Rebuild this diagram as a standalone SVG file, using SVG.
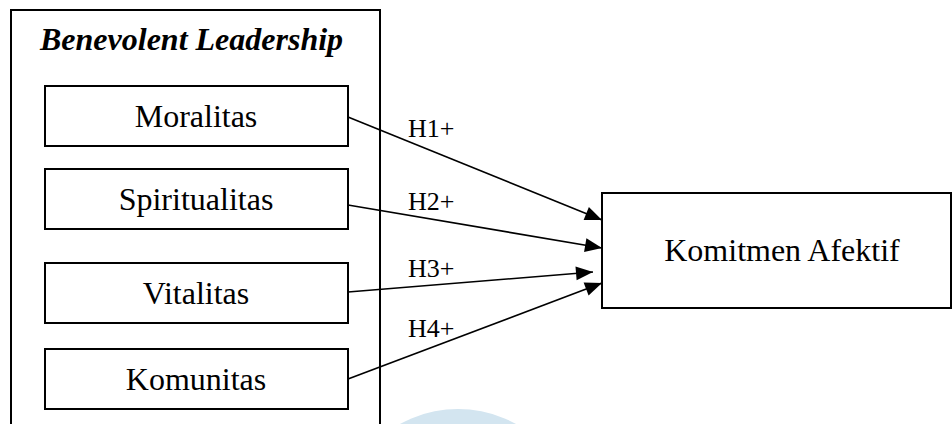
<svg xmlns="http://www.w3.org/2000/svg" width="952" height="424" viewBox="0 0 952 424">
<style>
.box{fill:#fff;stroke:#000;stroke-width:2}
.frame{fill:none;stroke:#000;stroke-width:2}
.t{font-family:"Liberation Serif","Times New Roman",serif;font-size:32px;fill:#000;text-anchor:middle}
.title{font-family:"Liberation Serif","Times New Roman",serif;font-size:32px;font-weight:bold;font-style:italic;fill:#000}
.lbl{font-family:"Liberation Serif","Times New Roman",serif;font-size:26px;fill:#000}
.arr{stroke:#000;stroke-width:1.6;fill:none;marker-end:url(#ah)}
</style>
<defs>
<marker id="ah" markerUnits="userSpaceOnUse" markerWidth="20" markerHeight="16" refX="17" refY="7" orient="auto" overflow="visible">
<path d="M0,0 L17,7 L0,14 Z" fill="#000"/>
</marker>
</defs>
<rect width="952" height="424" fill="#fff"/>
<circle cx="458" cy="529" r="120" fill="#d3e5f0"/>
<g id="benevolent-leadership">
<rect class="frame" x="11" y="10" width="369" height="430"/>
<text class="title" x="40" y="50">Benevolent Leadership</text>
</g>
<g id="moralitas">
<rect class="box" x="45" y="86" width="303" height="60"/>
<text class="t" x="196" y="127">Moralitas</text>
</g>
<g id="spiritualitas">
<rect class="box" x="45" y="169" width="303" height="60"/>
<text class="t" x="196" y="210">Spiritualitas</text>
</g>
<g id="vitalitas">
<rect class="box" x="45" y="263" width="303" height="60"/>
<text class="t" x="196" y="304">Vitalitas</text>
</g>
<g id="komunitas">
<rect class="box" x="45" y="349" width="303" height="60"/>
<text class="t" x="196" y="390">Komunitas</text>
</g>
<g id="komitmen-afektif">
<rect class="box" x="602" y="193" width="349" height="115"/>
<text class="t" x="782" y="261">Komitmen Afektif</text>
</g>
<g id="connectors">
<line class="arr" x1="348" y1="117" x2="602" y2="220"/>
<line class="arr" x1="348" y1="205" x2="602" y2="248"/>
<line class="arr" x1="348" y1="292" x2="593" y2="272"/>
<line class="arr" x1="348" y1="379" x2="602" y2="283"/>
<text class="lbl" x="408" y="137">H1+</text>
<text class="lbl" x="408" y="210">H2+</text>
<text class="lbl" x="408" y="277">H3+</text>
<text class="lbl" x="408" y="337">H4+</text>
</g>
</svg>
